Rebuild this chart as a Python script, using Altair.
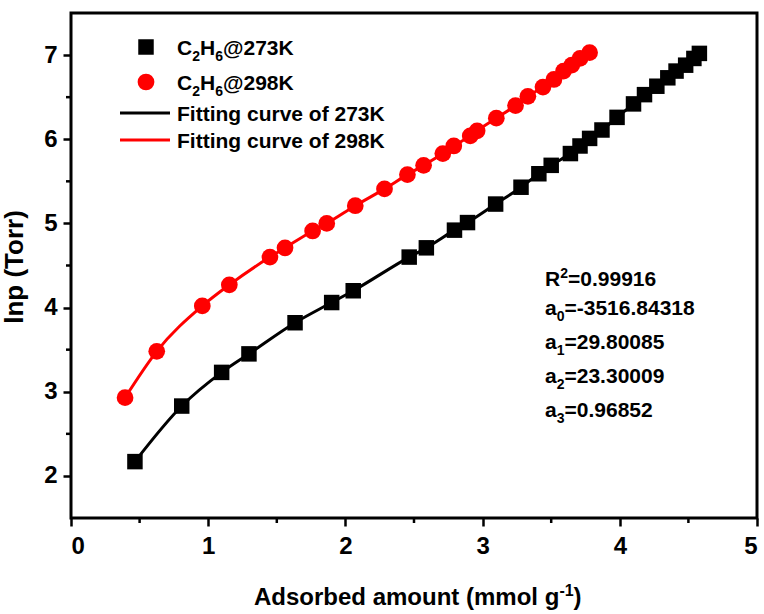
import altair as alt
import pandas as pd

# Isosteric data: ln p versus adsorbed amount for C2H6
n_273 = [0.466, 0.807, 1.098, 1.297, 1.633, 1.900, 2.057, 2.465, 2.59, 2.795,
         2.89, 3.095, 3.28, 3.41, 3.50, 3.64, 3.71, 3.78, 3.87, 3.98,
         4.10, 4.18, 4.27, 4.35, 4.41, 4.48, 4.54, 4.58]
lnp_273 = [2.17, 2.83, 3.23, 3.45, 3.82, 4.06, 4.20, 4.60, 4.71, 4.92,
           5.01, 5.23, 5.43, 5.59, 5.69, 5.83, 5.92, 6.01, 6.11, 6.26,
           6.42, 6.53, 6.63, 6.73, 6.81, 6.88, 6.96, 7.02]

n_298 = [0.394, 0.625, 0.957, 1.154, 1.450, 1.560, 1.761, 1.864, 2.072, 2.285,
         2.452, 2.57, 2.71, 2.79, 2.91, 2.96, 3.10, 3.24, 3.33, 3.44,
         3.52, 3.59, 3.65, 3.71, 3.78]
lnp_298 = [2.93, 3.48, 4.02, 4.27, 4.60, 4.71, 4.91, 5.00, 5.21, 5.41,
           5.58, 5.69, 5.83, 5.92, 6.04, 6.10, 6.25, 6.40, 6.51, 6.62,
           6.71, 6.81, 6.88, 6.96, 7.03]

x_major = [0, 1, 2, 3, 4, 5]
x_minor = [0.5, 1.5, 2.5, 3.5, 4.5]
y_major = [2, 3, 4, 5, 6, 7]
y_minor = [2.5, 3.5, 4.5, 5.5, 6.5]

FONT = "Liberation Sans"
RED = "#ff0000"
W, H = 686, 505

df273 = pd.DataFrame({"n": n_273, "lnp": lnp_273})
df298 = pd.DataFrame({"n": n_298, "lnp": lnp_298})
one = pd.DataFrame({"k": [0]})

x_scale = alt.Scale(domain=[0, 5], nice=False, zero=False)
y_scale = alt.Scale(domain=[1.5, 7.5], nice=False, zero=False)

axis_style = dict(
    title=None, tickSize=8, tickWidth=2.5, tickColor="black",
    labelFont=FONT, labelFontSize=24, labelFontWeight="bold",
    labelColor="black", domain=False, grid=False, format="d",
)
x_enc = alt.X("n:Q", scale=x_scale,
              axis=alt.Axis(values=x_major, labelPadding=8, **axis_style))
y_enc = alt.Y("lnp:Q", scale=y_scale,
              axis=alt.Axis(values=y_major, labelPadding=6, **axis_style))


def text(s, x, y, size, align="left", baseline="alphabetic", angle=0):
    return alt.Chart(one).mark_text(
        text=s, font=FONT, fontSize=size, fontWeight="bold", color="black",
        align=align, baseline=baseline, angle=angle,
    ).encode(x=alt.value(x), y=alt.value(y))


layers = []

# fitting curves
layers.append(alt.Chart(df273).mark_line(color="black", strokeWidth=3, interpolate="monotone")
              .encode(x=x_enc, y=y_enc))
layers.append(alt.Chart(df298).mark_line(color=RED, strokeWidth=3, interpolate="monotone")
              .encode(x=x_enc, y=y_enc))

# measured points
layers.append(alt.Chart(df273).mark_square(size=240, color="black", opacity=1)
              .encode(x=x_enc, y=y_enc))
layers.append(alt.Chart(df298).mark_circle(size=280, color=RED, opacity=1)
              .encode(x=x_enc, y=y_enc))

# minor ticks
layers.append(alt.Chart(pd.DataFrame({"n": x_minor})).mark_rule(color="black", strokeWidth=2.5)
              .encode(x=x_enc, y=alt.value(H), y2=alt.value(H + 5)))
layers.append(alt.Chart(pd.DataFrame({"lnp": y_minor})).mark_rule(color="black", strokeWidth=2.5)
              .encode(y=y_enc, x=alt.value(0), x2=alt.value(-5)))

# legend
layers.append(alt.Chart(one).mark_square(size=240, color="black", opacity=1)
              .encode(x=alt.value(75), y=alt.value(34)))
layers.append(alt.Chart(one).mark_circle(size=280, color=RED, opacity=1)
              .encode(x=alt.value(75), y=alt.value(69)))
layers.append(alt.Chart(one).mark_rule(color="black", strokeWidth=3)
              .encode(x=alt.value(49), x2=alt.value(99), y=alt.value(100)))
layers.append(alt.Chart(one).mark_rule(color=RED, strokeWidth=3)
              .encode(x=alt.value(49), x2=alt.value(99), y=alt.value(127)))

for base_y, temp in [(42, "273K"), (77, "298K")]:
    layers += [
        text("C", 106, base_y, 21),
        text("2", 121.2, base_y + 6, 14),
        text("H", 129.0, base_y, 21),
        text("6", 144.2, base_y + 6, 14),
        text("@" + temp, 152.0, base_y, 21),
    ]
layers.append(text("Fitting curve of 273K", 106, 108, 21))
layers.append(text("Fitting curve of 298K", 106, 135, 21))

# fit parameters
ax = 474
layers += [
    text("R", ax, 273, 21),
    text("2", ax + 15.2, 265, 14),
    text("=0.99916", ax + 23.0, 273, 21),
]
for i, (val, base_y) in enumerate([("-3516.84318", 302), ("29.80085", 336),
                                    ("23.30009", 370), ("0.96852", 404)]):
    layers += [
        text("a", ax, base_y, 21),
        text(str(i), ax + 11.7, base_y + 6, 14),
        text("=" + val, ax + 19.5, base_y, 21),
    ]

# axis titles
layers += [
    text("Adsorbed amount (mmol g", 183, 592, 24),
    text("-1", 488.4, 583, 16),
    text(")", 502.6, 592, 24),
    text("lnp (Torr)", -48, 254, 26, align="center", angle=270),
]

chart = (
    alt.layer(*layers)
    .properties(
        width=W, height=H,
        padding={"left": 71, "top": 13, "right": 7, "bottom": 96},
        autosize=alt.AutoSizeParams(type="none"),
        background="white",
    )
    .configure_view(stroke="black", strokeWidth=3)
)

chart.save("out.html", embed_options={"renderer": "svg", "actions": False})
